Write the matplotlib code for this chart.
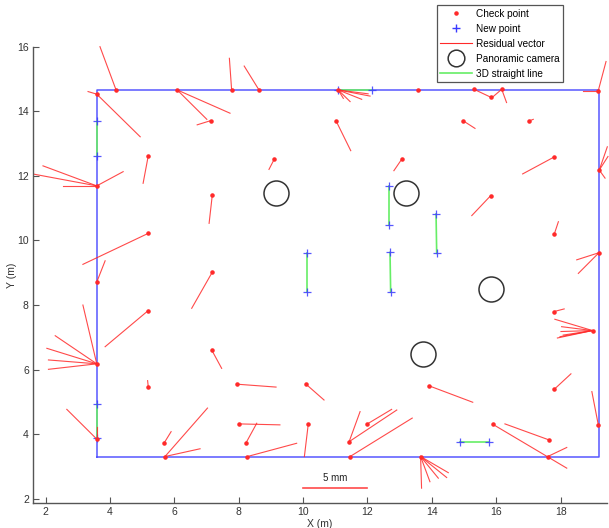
import matplotlib.pyplot as plt
from matplotlib.lines import Line2D

plt.rcParams['font.family'] = ['Liberation Sans', 'DejaVu Sans']

# check points (m)
chk_x = [4.19, 3.59, 6.09, 7.78, 8.63, 11.09, 13.58, 15.31, 16.17, 19.17,
         7.13, 11.02, 14.98, 17.02, 5.19, 9.10, 13.06, 17.79, 3.59, 7.18,
         15.83, 19.20, 5.19, 17.80, 19.19, 7.18, 3.59, 5.19, 17.80, 18.99,
         7.16, 3.59, 5.19, 7.94, 10.09, 13.91, 17.80, 8.02, 10.16, 11.98,
         15.89, 5.69, 8.22, 11.43, 17.65, 3.59, 5.71, 8.27, 11.46, 13.65,
         17.60, 19.17, 15.84]
chk_y = [14.66, 14.53, 14.66, 14.66, 14.66, 14.66, 14.66, 14.68, 14.68, 14.64,
         13.71, 13.71, 13.70, 13.70, 12.62, 12.51, 12.51, 12.58, 11.69, 11.41,
         11.39, 12.18, 10.22, 10.19, 9.62, 9.02, 8.71, 7.83, 7.80, 7.21,
         6.61, 6.18, 5.47, 5.55, 5.55, 5.50, 5.39, 4.32, 4.31, 4.31,
         4.31, 3.74, 3.72, 3.77, 3.82, 3.85, 3.31, 3.31, 3.31, 3.31,
         3.31, 4.29, 14.43]

# residual vectors: check point index and end of the drawn vector (m)
res_idx = [0, 1, 1, 2, 2, 3, 4, 5, 5, 5, 5, 5, 6, 7, 8, 8, 9, 9,
           10, 11, 12, 13, 14, 15, 16, 17, 18, 18, 18, 18, 19, 20,
           21, 21, 21, 22, 23, 24, 24, 25, 26, 27, 28,
           29, 29, 29, 29, 29, 29, 30, 31, 31, 31, 31, 31,
           32, 33, 34, 35, 36, 37, 38, 39, 40, 41, 42, 43, 43, 44,
           45, 45, 46, 46, 47, 48, 49, 49, 49, 49, 49, 50, 51]
res_x = [3.69, 3.32, 4.94, 7.01, 7.73, 7.71, 8.17, 11.46, 11.82, 12.08, 11.25, 12.02,
         13.62, 15.84, 15.84, 16.32, 19.41, 18.69,
         6.71, 11.48, 15.34, 17.15, 5.03, 8.94, 12.82, 16.82, 1.65, 1.92, 2.53, 4.41,
         7.08, 15.24,
         19.45, 19.47, 19.38, 3.16, 17.93, 18.50, 18.55, 6.54, 3.85, 3.85, 18.11,
         17.82, 18.03, 18.01, 17.98, 18.08, 17.90, 7.47, 3.16, 2.30, 2.04, 2.09, 2.09,
         5.17, 9.16, 10.65, 15.27, 18.32, 9.28, 10.04, 12.75, 18.19, 5.90, 8.56,
         11.77, 12.91, 16.27, 2.66, 3.59, 7.03, 6.80, 9.80, 13.39,
         13.68, 13.94, 14.20, 14.46, 14.51, 18.19, 18.97]
res_y = [16.00, 14.61, 13.21, 13.75, 13.94, 15.64, 15.40, 14.30, 14.37, 14.47, 14.40, 14.54,
         14.66, 14.43, 14.40, 14.27, 15.54, 14.64,
         13.58, 12.78, 13.47, 13.75, 11.77, 12.20, 12.16, 12.06, 12.05, 12.31, 11.69, 12.13,
         10.53, 10.77,
         12.90, 12.60, 11.93, 9.26, 10.58, 9.40, 8.98, 7.90, 9.37, 6.71, 7.88,
         7.56, 7.33, 7.18, 7.02, 7.07, 6.98, 6.04, 8.00, 7.05, 6.66, 6.30, 6.01,
         5.66, 5.46, 5.06, 4.99, 5.87, 4.29, 3.31, 4.77, 2.95, 4.08, 4.34,
         4.70, 4.75, 4.32, 4.77, 4.23, 4.81, 3.55, 3.72, 4.50,
         2.33, 2.53, 2.64, 2.66, 2.81, 3.59, 5.32]

# new points, joined in pairs by the 3D straight lines (m)
new_x0 = [3.59, 3.59, 11.09, 10.11, 12.66, 12.70, 14.13, 14.87]
new_y0 = [13.70, 4.94, 14.66, 9.62, 11.69, 9.63, 10.82, 3.77]
new_x1 = [3.59, 3.59, 12.13, 10.11, 12.66, 12.72, 14.15, 15.76]
new_y1 = [12.63, 3.88, 14.66, 8.41, 10.47, 8.40, 9.60, 3.77]

# panoramic cameras (m)
cam_x = [9.16, 13.20, 15.83, 13.72]
cam_y = [11.47, 11.47, 8.49, 6.49]

# outline of the test field (m)
frame_x = [3.59, 19.20, 19.20, 3.59, 3.59]
frame_y = [3.31, 3.31, 14.66, 14.66, 3.31]

red = '#ff2a2a'
blue = '#3a3aff'
green = '#66ee66'

fig = plt.figure(figsize=(6.09, 5.28), dpi=100)
ax = fig.add_axes([0.0542, 0.0473, 0.9425, 0.8643])

ax.plot(frame_x, frame_y, color=blue, lw=1.1, alpha=0.85)

for i in range(len(new_x0)):
    ax.plot([new_x0[i], new_x1[i]], [new_y0[i], new_y1[i]], color=green, lw=1.2)
ax.plot(new_x0 + new_x1, new_y0 + new_y1, '+', color=blue, ms=6, mew=0.9, alpha=0.85, ls='none')

for k, i in enumerate(res_idx):
    ax.plot([chk_x[i], res_x[k]], [chk_y[i], res_y[k]], color=red, lw=0.8,
            alpha=0.85, clip_on=False)
ax.plot(chk_x, chk_y, '.', color=red, ms=4.5, ls='none', clip_on=False)

ax.plot(cam_x, cam_y, 'o', ms=18, mfc='none', mec='#333333', mew=1.1, ls='none')

# scale bar
ax.plot([10.0, 12.0], [2.33, 2.33], color=red, lw=1.2, alpha=0.85)
ax.text(11.0, 2.5, '5 mm', ha='center', va='bottom', fontsize=7, color='#222222')

ax.set_xlim(1.61, 19.44)
ax.set_ylim(1.87, 16.0)
ax.set_xticks(range(2, 19, 2))
ax.set_yticks(range(2, 17, 2))
ax.spines['top'].set_visible(False)
ax.spines['right'].set_visible(False)
for s in ['left', 'bottom']:
    ax.spines[s].set_color('#555555')
    ax.spines[s].set_linewidth(1.0)
ax.tick_params(direction='in', length=4, width=0.8, color='#555555',
               labelsize=7.5, labelcolor='#333333', pad=3)
ax.set_xlabel('X (m)', fontsize=7.5, color='#333333', labelpad=1)
ax.set_ylabel('Y (m)', fontsize=7.5, color='#333333', labelpad=0)

handles = [
    Line2D([], [], marker='.', color=red, ls='none', ms=4.5),
    Line2D([], [], marker='+', color=blue, ls='none', ms=6),
    Line2D([], [], color=red, lw=0.8),
    Line2D([], [], marker='o', mfc='none', mec='#333333', ls='none', ms=12, mew=1.1),
    Line2D([], [], color=green, lw=1.2),
]
labels = ['Check point', 'New point', 'Residual vector', 'Panoramic camera', '3D straight line']
leg = fig.legend(handles, labels, loc='upper left', bbox_to_anchor=(0.717, 0.9905),
                 fontsize=7.2, fancybox=False, framealpha=1, edgecolor='#555555',
                 borderpad=0.35, labelspacing=0.5, handlelength=3.2, handletextpad=0.35,
                 borderaxespad=0)
leg.get_frame().set_linewidth(0.9)

fig.savefig('out.png', dpi=100)
